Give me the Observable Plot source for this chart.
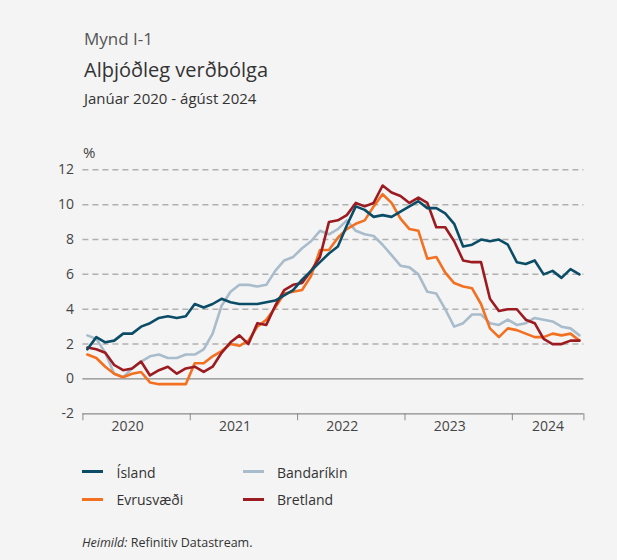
<!DOCTYPE html>
<html>
<head>
<meta charset="utf-8">
<script src="https://cdn.jsdelivr.net/npm/d3@7"></script>
<script src="https://cdn.jsdelivr.net/npm/@observablehq/plot@0.6"></script>
<style>
  html, body { margin: 0; padding: 0; background: #f4f4f4; }
  #page { position: relative; width: 617px; height: 560px; background: #f4f4f4; font-family: "Open Sans", sans-serif; overflow: hidden; }
  .t { position: absolute; white-space: nowrap; line-height: 1; }
  .sw { position: absolute; height: 3px; width: 21px; }
  #chart { position: absolute; left: 0; top: 130px; }
</style>
</head>
<body>
<div id="page">
  <div class="t" style="left:84px;top:30px;font-size:17px;color:#555;">Mynd I-1</div>
  <div class="t" style="left:84px;top:59.5px;font-size:20px;color:#333;">Alþjóðleg verðbólga</div>
  <div class="t" style="left:84px;top:91px;font-size:15px;color:#333;">Janúar 2020 - ágúst 2024</div>
  <div id="chart"></div>
  <div id="legend"></div>
  <div class="t" style="left:82px;top:536.5px;font-size:12.5px;color:#333;"><i>Heimild:</i> Refinitiv Datastream.</div>
</div>
<script>
// Monthly 12-month inflation, Jan 2020 - Aug 2024 (%)
const names = ["Ísland", "Evrusvæði", "Bandaríkin", "Bretland"];
const colors = ["#0b4d66", "#f37021", "#a9bccb", "#9c1b21"];
const years = ["2020", "2021", "2022", "2023", "2024"];
const yTicks = [-2, 0, 2, 4, 6, 8, 10, 12];

const island = [1.7,2.4,2.1,2.2,2.6,2.6,3.0,3.2,3.5,3.6,3.5,3.6,
  4.3,4.1,4.3,4.6,4.4,4.3,4.3,4.3,4.4,4.5,4.8,5.1,
  5.7,6.2,6.7,7.2,7.6,8.8,9.9,9.7,9.3,9.4,9.3,9.6,
  9.9,10.2,9.8,9.8,9.5,8.9,7.6,7.7,8.0,7.9,8.0,7.7,
  6.7,6.6,6.8,6.0,6.2,5.8,6.3,6.0];
const evrusvaedi = [1.4,1.2,0.7,0.3,0.1,0.3,0.4,-0.2,-0.3,-0.3,-0.3,-0.3,
  0.9,0.9,1.3,1.6,2.0,1.9,2.2,3.0,3.4,4.1,4.9,5.0,
  5.1,5.9,7.4,7.4,8.1,8.6,8.9,9.1,9.9,10.6,10.1,9.2,
  8.6,8.5,6.9,7.0,6.1,5.5,5.3,5.2,4.3,2.9,2.4,2.9,
  2.8,2.6,2.4,2.4,2.6,2.5,2.6,2.2];
const bandarikin = [2.5,2.3,1.5,0.3,0.1,0.6,1.0,1.3,1.4,1.2,1.2,1.4,
  1.4,1.7,2.6,4.2,5.0,5.4,5.4,5.3,5.4,6.2,6.8,7.0,
  7.5,7.9,8.5,8.3,8.6,9.1,8.5,8.3,8.2,7.7,7.1,6.5,
  6.4,6.0,5.0,4.9,4.0,3.0,3.2,3.7,3.7,3.2,3.1,3.4,
  3.1,3.2,3.5,3.4,3.3,3.0,2.9,2.5];
const bretland = [1.8,1.7,1.5,0.8,0.5,0.6,1.0,0.2,0.5,0.7,0.3,0.6,
  0.7,0.4,0.7,1.5,2.1,2.5,2.0,3.2,3.1,4.2,5.1,5.4,
  5.5,6.2,7.0,9.0,9.1,9.4,10.1,9.9,10.1,11.1,10.7,10.5,
  10.1,10.4,10.1,8.7,8.7,7.9,6.8,6.7,6.7,4.6,3.9,4.0,
  4.0,3.4,3.2,2.3,2.0,2.0,2.2,2.2];

const seriesValues = [island, evrusvaedi, bandarikin, bretland];
const nMonths = island.length;

// long table, each month drawn at its middle
const rows = [];
[2, 1, 3, 0].forEach(k => {
  seriesValues[k].forEach((v, i) => rows.push({name: names[k], m: i + 0.5, v}));
});

const yearStarts = years.map((y, i) => i * 12);
const tickPos = [...yearStarts, nMonths];
const yearLabels = years.map((y, i) => {
  const s = i * 12, n = Math.min(12, nMonths - s);
  return {label: y, m: s + Math.min(5, n / 2)};
});

const chart = Plot.plot({
  width: 617,
  height: 310,
  marginLeft: 82.4,
  marginRight: 33.6,
  marginTop: 39.3,
  marginBottom: 26.7,
  style: {background: "transparent", color: "#444", fontFamily: "Open Sans, sans-serif", fontSize: "14px"},
  x: {domain: [0, nMonths]},
  y: {domain: [-2, 12]},
  color: {domain: names, range: colors},
  marks: [
    Plot.gridY(yTicks.filter(t => t > 0), {stroke: "#b0b0b0", strokeOpacity: 1, strokeWidth: 1.5, strokeDasharray: "6,4"}),
    Plot.ruleY([0], {stroke: "#8a8a8a", strokeWidth: 1.3}),
    Plot.ruleY([-2], {stroke: "#8a8a8a", strokeWidth: 1.3}),
    Plot.axisX({ticks: tickPos, tickSize: 7, tickFormat: () => "", stroke: "#8a8a8a", label: null}),
    Plot.text(yearLabels, {x: "m", text: "label", frameAnchor: "bottom", dy: 17, fontSize: 14, fill: "#444"}),
    Plot.axisY({ticks: yTicks, tickSize: 0, tickPadding: 9, fontSize: 14, label: null, tickFormat: d => String(d)}),
    Plot.text(["%"], {frameAnchor: "top-left", textAnchor: "start", dy: -22.3, dx: 0, fontSize: 15, fill: "#444"}),
    Plot.line(rows, {x: "m", y: "v", z: "name", stroke: "name", strokeWidth: 2.6})
  ]
});
document.getElementById("chart").appendChild(chart);

// legend: two columns, two rows
const legend = document.getElementById("legend");
const cells = [[82, 116.5], [243, 277]];
[[0,0],[0,1],[1,0],[1,1]].forEach(([col, row], k) => {
  const sw = document.createElement("div");
  sw.className = "sw";
  sw.style.left = cells[col][0] + "px";
  sw.style.top = (470.3 + row * 27.3) + "px";
  sw.style.background = colors[k];
  legend.appendChild(sw);
  const t = document.createElement("div");
  t.className = "t";
  t.style.left = cells[col][1] + "px";
  t.style.top = (465.9 + row * 27.3) + "px";
  t.style.fontSize = "14px";
  t.style.color = "#333";
  t.textContent = names[k];
  legend.appendChild(t);
});
</script>
</body>
</html>
